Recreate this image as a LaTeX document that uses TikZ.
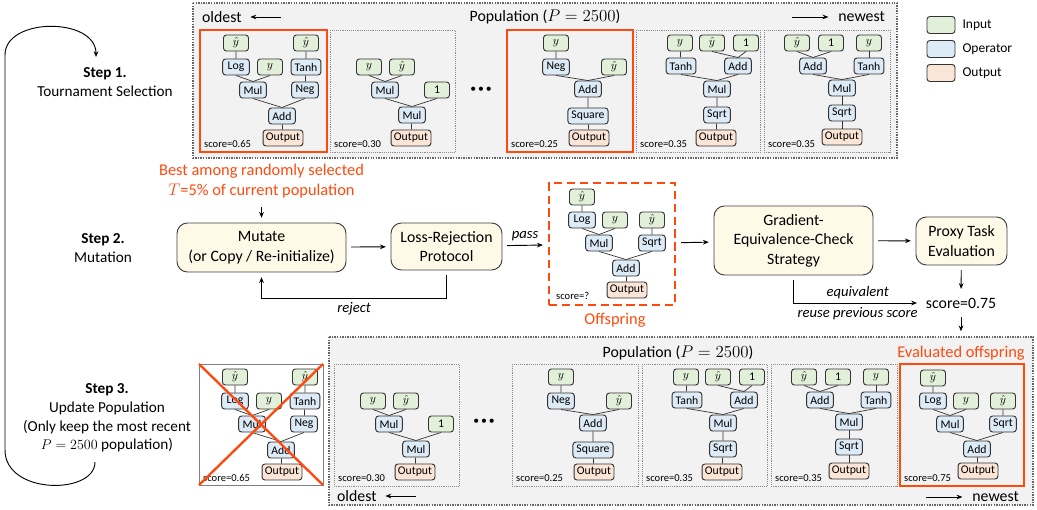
\documentclass[tikz,border=0pt]{standalone}
\usepackage{fontspec}
\setmainfont{Carlito}
\usetikzlibrary{positioning,arrows.meta}

\definecolor{hotred}{HTML}{FF4A0F}
\definecolor{inputgreen}{HTML}{E2F0D9}
\definecolor{opblue}{HTML}{DDEBF7}
\definecolor{outpeach}{HTML}{FBE5D6}
\definecolor{cream}{HTML}{FFF9E7}

\tikzset{
  treenode/.style={draw=black!80, line width=0.8pt, rounded corners=2.5pt, minimum height=0.48cm, inner ysep=1pt, font=\fontsize{10}{11}\selectfont},
  inp/.style={treenode, fill=inputgreen, minimum width=0.75cm, inner xsep=2pt},
  op/.style={treenode, fill=opblue, minimum width=0.8cm, inner xsep=3pt},
  outp/.style={treenode, fill=outpeach, inner xsep=2.5pt},
  link/.style={line width=0.6pt, black!80},
  score/.style={anchor=west, inner sep=0pt, font=\fontsize{9}{10}\selectfont},
  popbox/.style={draw=black!60, densely dotted, line width=1.2pt, fill=black!5},
  member/.style={draw=black!45, densely dotted, line width=0.6pt},
  chosen/.style={draw=hotred, line width=2.4pt},
  stepbox/.style={draw=black!75, fill=cream, line width=0.8pt, rounded corners=9pt, align=center, font=\fontsize{13.5}{16.6}\selectfont},
  flow/.style={->, line width=0.8pt, shorten >=4pt, shorten <=4pt},
  steplabel/.style={align=center, font=\fontsize{13}{16}\selectfont},
  bigtext/.style={font=\fontsize{13.5}{16}\selectfont},
  redtext/.style={text=hotred, align=center, font=\fontsize{14}{16.5}\selectfont},
  legtext/.style={font=\fontsize{11.5}{13}\selectfont},
  lbl/.style={font=\fontsize{12.5}{14}\selectfont\itshape},
  dotrow/.style={font=\fontsize{10}{10}\selectfont},
}

\newcommand{\treeLogTanh}{
  \node[inp] (h1) at (36,13) {$\hat{y}$};
  \node[inp] (h2) at (106,13) {$\hat{y}$};
  \node[op] (lg) at (36,37) {Log};
  \node[inp] (y) at (70,37) {$y$};
  \node[op] (th) at (106,37) {Tanh};
  \node[op] (ml) at (53,60) {Mul};
  \node[op] (ng) at (105,60) {Neg};
  \node[op] (ad) at (82,86) {Add};
  \node[outp] (out) at (83,108) {Output};
  \draw[link] (h1) -- (lg) (h2) -- (th) (th) -- (ng) (ad) -- (out);
  \draw[link] (lg.south) -- (ml.north) (y.south) -- (ml.north);
  \draw[link] (ml.south) -- (ad.north) (ng.south) -- (ad.north);
}
\newcommand{\treeMulOne}{
  \node[inp] (y) at (39,37) {$y$};
  \node[inp] (h) at (72,37) {$\hat{y}$};
  \node[op] (m1) at (55,60) {Mul};
  \node[inp] (one) at (107,60) {1};
  \node[op] (m2) at (82,85) {Mul};
  \node[outp] (out) at (81,108) {Output};
  \draw[link] (y.south) -- (m1.north) (h.south) -- (m1.north);
  \draw[link] (m1.south) -- (m2.north) (one.south) -- (m2.north) (m2) -- (out);
}
\newcommand{\treeNegSquare}{
  \node[inp] (y) at (49,13) {$y$};
  \node[op] (ng) at (49,37) {Neg};
  \node[inp] (h) at (107,37) {$\hat{y}$};
  \node[op] (ad) at (81,59) {Add};
  \node[op] (sq) at (81,86) {Square};
  \node[outp] (out) at (82,108) {Output};
  \draw[link] (y) -- (ng) (ad) -- (sq) (sq) -- (out);
  \draw[link] (ng.south) -- (ad.north) (h.south) -- (ad.north);
}
\newcommand{\treeTanhAdd}{
  \node[inp] (y) at (44,13) {$y$};
  \node[inp] (h) at (76,13) {$\hat{y}$};
  \node[inp] (one) at (110,13) {1};
  \node[op] (th) at (45,36) {Tanh};
  \node[op] (ad) at (102,36) {Add};
  \node[op] (ml) at (81,59) {Mul};
  \node[op] (sq) at (81,85) {Sqrt};
  \node[outp] (out) at (80,108) {Output};
  \draw[link] (y) -- (th) (ml) -- (sq) (sq) -- (out);
  \draw[link] (h.south) -- (ad.north) (one.south) -- (ad.north);
  \draw[link] (th.south) -- (ml.north) (ad.south) -- (ml.north);
}
\newcommand{\treeAddTanh}{
  \node[inp] (h) at (33,13) {$\hat{y}$};
  \node[inp] (one) at (67,13) {1};
  \node[inp] (y) at (105,13) {$y$};
  \node[op] (ad) at (49,36) {Add};
  \node[op] (th) at (105,36) {Tanh};
  \node[op] (ml) at (78,58) {Mul};
  \node[op] (sq) at (78,83) {Sqrt};
  \node[outp] (out) at (78,107) {Output};
  \draw[link] (y) -- (th) (ml) -- (sq) (sq) -- (out);
  \draw[link] (h.south) -- (ad.north) (one.south) -- (ad.north);
  \draw[link] (ad.south) -- (ml.north) (th.south) -- (ml.north);
}
\newcommand{\treeLogSqrt}{
  \node[inp] (h1) at (33,14) {$\hat{y}$};
  \node[op] (lg) at (33,37) {Log};
  \node[inp] (y) at (66,37) {$y$};
  \node[inp] (h2) at (103,37) {$\hat{y}$};
  \node[op] (ml) at (50,60) {Mul};
  \node[op] (sq) at (103,60) {Sqrt};
  \node[op] (ad) at (77,85) {Add};
  \node[outp] (out) at (78,107) {Output};
  \draw[link] (h1) -- (lg) (h2) -- (sq) (ad) -- (out);
  \draw[link] (lg.south) -- (ml.north) (y.south) -- (ml.north);
  \draw[link] (ml.south) -- (ad.north) (sq.south) -- (ad.north);
}

\begin{document}
\begin{tikzpicture}[x=0.03cm, y=-0.03cm, >={Stealth[length=5pt,width=4pt]}]
  \useasboundingbox (0,0) rectangle (1037,510);

  \node[steplabel] (s1) at (105,82) {\textbf{Step 1.}\\Tournament Selection};
  \node[steplabel] (s2) at (103,248) {\textbf{Step 2.}\\Mutation};
  \node[steplabel] (s3) at (107,418) {\textbf{Step 3.}\\Update Population\\(Only keep the most recent\\$P=2500$ population)};
  \draw[->, line width=0.8pt] (95,462) .. controls (95,495) and (5,495) .. (5,450) -- (5,55) .. controls (5,17) and (96,17) .. (96,57);

  \draw[popbox] (193,3) rectangle (897,158);
  \node[bigtext, anchor=west] (old1) at (198,17) {oldest};
  \draw[<-, line width=0.8pt, shorten <=4pt] (old1.east) -- ++(35,0);
  \node[bigtext] (pop1) at (545,17) {Population ($P=2500$)};
  \node[bigtext, anchor=east] (new1) at (889,17) {newest};
  \draw[<-, line width=0.8pt, shorten <=5pt] (new1.west) -- ++(-42,0);

  \draw[chosen] (200,30) rectangle (327,152);
  \begin{scope}[shift={(200,30)}, name prefix=p1-]
    \treeLogTanh
    \node[score] (sc) at (4,114) {score=0.65};
  \end{scope}
  \draw[member] (330,30) rectangle (455,152);
  \begin{scope}[shift={(330,30)}, name prefix=p2-]
    \treeMulOne
    \node[score] (sc) at (4,114) {score=0.30};
  \end{scope}
  \node[dotrow] (dots1) at (481,90) {\textbullet\,\textbullet\,\textbullet};
  \draw[chosen] (507,30) rectangle (633,152);
  \begin{scope}[shift={(507,30)}, name prefix=p3-]
    \treeNegSquare
    \node[score] (sc) at (4,114) {score=0.25};
  \end{scope}
  \draw[member] (636,30) rectangle (760,152);
  \begin{scope}[shift={(636,30)}, name prefix=p4-]
    \treeTanhAdd
    \node[score] (sc) at (4,114) {score=0.35};
  \end{scope}
  \draw[member] (764,30) rectangle (890,152);
  \begin{scope}[shift={(764,30)}, name prefix=p5-]
    \treeAddTanh
    \node[score] (sc) at (4,114) {score=0.35};
  \end{scope}

  \node[inp, minimum width=0.84cm, minimum height=0.51cm] (legin) at (941,25) {};
  \node[legtext, right=2.5pt of legin] (legintxt) {Input};
  \node[op, minimum width=0.84cm, minimum height=0.51cm] (legop) at (941,49) {};
  \node[legtext, right=2.5pt of legop] (legoptxt) {Operator};
  \node[outp, minimum width=0.84cm, minimum height=0.51cm] (legout) at (941,73) {};
  \node[legtext, right=2.5pt of legout] (legouttxt) {Output};

  \node[redtext] (best) at (261.5,181) {Best among randomly selected\\$T$=5\% of current population};
  \node[stepbox, minimum width=5.07cm, minimum height=1.47cm] (mut) at (261.5,247.5) {Mutate\\(or Copy / Re-initialize)};
  \node[stepbox, minimum width=3.33cm, minimum height=1.41cm] (lr) at (446.5,246.5) {Loss-Rejection\\Protocol};
  \node[draw=hotred, line width=2.4pt, dash pattern=on 7pt off 4pt, minimum width=3.78cm, minimum height=3.66cm] (off) at (612,244) {};
  \begin{scope}[shift={(549,183)}, name prefix=of-]
    \treeLogSqrt
    \node[score] (sc) at (7,113) {score=?};
  \end{scope}
  \node[redtext] (offlbl) at (615,320) {Offspring};
  \node[stepbox, minimum width=4.77cm, minimum height=2.07cm] (gec) at (793.5,240.5) {Gradient-\\Equivalence-Check\\Strategy};
  \node[stepbox, minimum width=2.73cm, minimum height=1.44cm] (proxy) at (961.5,241) {Proxy Task\\Evaluation};
  \node[bigtext] (sc75) at (961,303) {score=0.75};
  \coordinate (evalin) at (961,336);

  \draw[flow] (best) -- (mut);
  \draw[flow] (mut) -- (lr);
  \draw[flow] (lr.south) -- ++(0,28) -| node[pos=0.25, below, lbl] {reject} (mut.south);
  \draw[flow] (lr) -- node[above, lbl] {pass} (off);
  \draw[flow] (off) -- (gec);
  \draw[flow] (gec) -- (proxy);
  \draw[flow] (proxy) -- (sc75);
  \draw[flow] (gec.south) |- node[pos=0.75, above, lbl] {equivalent} node[pos=0.75, below, lbl] {reuse previous score} (sc75.west);
  \draw[flow] (sc75) -- (evalin);

  \draw[black!50, line width=0.8pt] (199,364) rectangle (323,485);
  \begin{scope}[shift={(199,364)}, name prefix=x-]
    \treeLogTanh
    \node[score] (sc) at (4,114) {score=0.65};
  \end{scope}
  \draw[hotred, line width=2pt] (199,364) -- (323,485) (199,485) -- (323,364);

  \draw[popbox] (329,337) rectangle (1033,505);
  \node[bigtext] (pop2) at (678,353) {Population ($P=2500$)};
  \node[redtext] (evallbl) at (961,353) {Evaluated offspring};
  \node[bigtext, anchor=west] (old2) at (333,496) {oldest};
  \draw[<-, line width=0.8pt, shorten <=4pt] (old2.east) -- ++(35,0);
  \node[bigtext, anchor=east] (new2) at (1023,497) {newest};
  \draw[<-, line width=0.8pt, shorten <=5pt] (new2.west) -- ++(-42,0);

  \draw[member] (334,364) rectangle (459,486);
  \begin{scope}[shift={(334,364)}, name prefix=q1-]
    \treeMulOne
    \node[score] (sc) at (4,114) {score=0.30};
  \end{scope}
  \node[dotrow] (dots2) at (484,422) {\textbullet\,\textbullet\,\textbullet};
  \draw[member] (512,364) rectangle (638,486);
  \begin{scope}[shift={(512,364)}, name prefix=q2-]
    \treeNegSquare
    \node[score] (sc) at (4,114) {score=0.25};
  \end{scope}
  \draw[member] (642,364) rectangle (767,486);
  \begin{scope}[shift={(642,364)}, name prefix=q3-]
    \treeTanhAdd
    \node[score] (sc) at (4,114) {score=0.35};
  \end{scope}
  \draw[member] (771,364) rectangle (897,486);
  \begin{scope}[shift={(771,364)}, name prefix=q4-]
    \treeAddTanh
    \node[score] (sc) at (4,114) {score=0.35};
  \end{scope}
  \draw[chosen] (900,364) rectangle (1024,486);
  \begin{scope}[shift={(900,364)}, name prefix=q5-]
    \treeLogSqrt
    \node[score] (sc) at (4,114) {score=0.75};
  \end{scope}
\end{tikzpicture}
\end{document}
